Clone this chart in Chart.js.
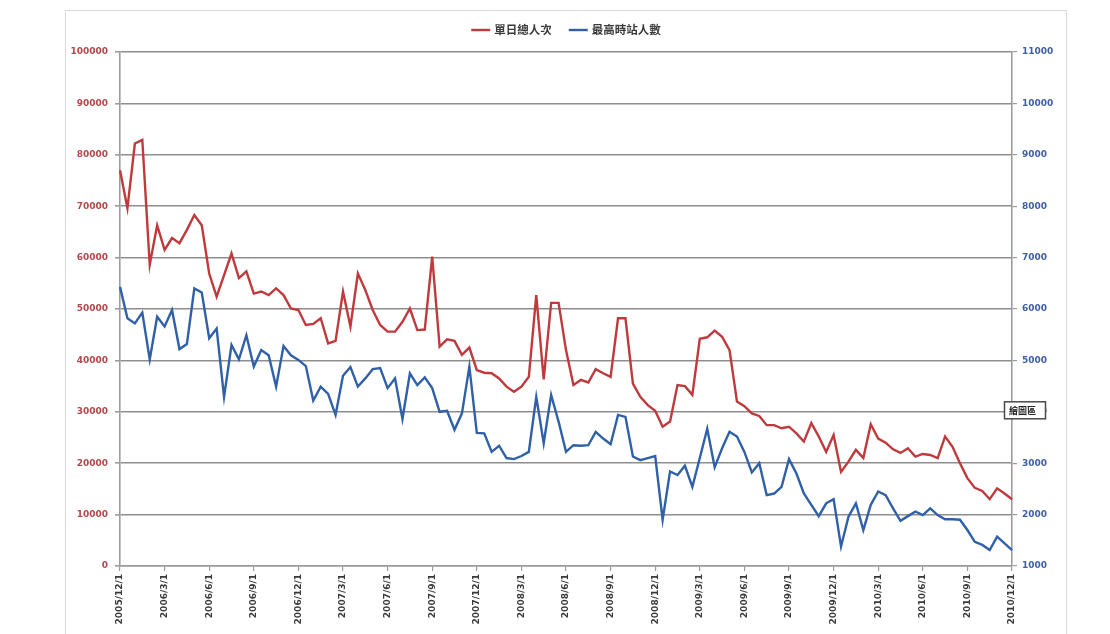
<!DOCTYPE html>
<html>
<head>
<meta charset="utf-8">
<script src="https://cdn.jsdelivr.net/npm/chart.js@4"></script>
<style>
  html, body { margin: 0; padding: 0; background: #ffffff; }
  #wrap { position: relative; width: 1110px; height: 634px; }
</style>
</head>
<body>
<div id="wrap"><canvas id="chart"></canvas></div>
<script>
// Semi-monthly sampling dates, Dec 2005 – Dec 2010
const categories = [
  "2005/12/1","2005/12/16",
  "2006/1/1","2006/1/16","2006/2/1","2006/2/16","2006/3/1","2006/3/16","2006/4/1","2006/4/16",
  "2006/5/1","2006/5/16","2006/6/1","2006/6/16","2006/7/1","2006/7/16","2006/8/1","2006/8/16",
  "2006/9/1","2006/9/16","2006/10/1","2006/10/16","2006/11/1","2006/11/16","2006/12/1","2006/12/16",
  "2007/1/1","2007/1/16","2007/2/1","2007/2/16","2007/3/1","2007/3/16","2007/4/1","2007/4/16",
  "2007/5/1","2007/5/16","2007/6/1","2007/6/16","2007/7/1","2007/7/16","2007/8/1","2007/8/16",
  "2007/9/1","2007/9/16","2007/10/1","2007/10/16","2007/11/1","2007/11/16","2007/12/1","2007/12/16",
  "2008/1/1","2008/1/16","2008/2/1","2008/2/16","2008/3/1","2008/3/16","2008/4/1","2008/4/16",
  "2008/5/1","2008/5/16","2008/6/1","2008/6/16","2008/7/1","2008/7/16","2008/8/1","2008/8/16",
  "2008/9/1","2008/9/16","2008/10/1","2008/10/16","2008/11/1","2008/11/16","2008/12/1","2008/12/16",
  "2009/1/1","2009/1/16","2009/2/1","2009/2/16","2009/3/1","2009/3/16","2009/4/1","2009/4/16",
  "2009/5/1","2009/5/16","2009/6/1","2009/6/16","2009/7/1","2009/7/16","2009/8/1","2009/8/16",
  "2009/9/1","2009/9/16","2009/10/1","2009/10/16","2009/11/1","2009/11/16","2009/12/1","2009/12/16",
  "2010/1/1","2010/1/16","2010/2/1","2010/2/16","2010/3/1","2010/3/16","2010/4/1","2010/4/16",
  "2010/5/1","2010/5/16","2010/6/1","2010/6/16","2010/7/1","2010/7/16","2010/8/1","2010/8/16",
  "2010/9/1","2010/9/16","2010/10/1","2010/10/16","2010/11/1","2010/11/16","2010/12/1"
];

// Daily total visits (left axis)
const dailyVisits = [
  77000, 69600, 82200, 82900, 58600, 66300, 61500, 63800, 62800, 65400,
  68300, 66300, 56900, 52400, 56600, 60800, 56000, 57300, 53000, 53400,
  52700, 54000, 52700, 50100, 49800, 46900, 47100, 48200, 43300, 43800,
  53400, 46600, 56900, 53700, 49800, 46900, 45600, 45600, 47500, 50100,
  45900, 46000, 60200, 42700, 44100, 43800, 41100, 42500, 38100, 37600,
  37500, 36500, 34900, 33900, 34900, 36800, 52700, 36300, 51200, 51200,
  42000, 35200, 36200, 35700, 38300, 37500, 36800, 48200, 48200, 35500,
  32900, 31300, 30200, 27100, 28100, 35200, 35000, 33300, 44200, 44500,
  45800, 44600, 42000, 32000, 31100, 29700, 29200, 27400, 27400, 26800,
  27100, 25800, 24200, 27800, 25200, 22200, 25500, 18300, 20300, 22600,
  21000, 27600, 24800, 24000, 22700, 22000, 22900, 21300, 21800, 21600,
  21000, 25200, 23200, 20000, 17100, 15200, 14600, 13000, 15100, 14100,
  13000
];

// Peak concurrent users (right axis)
const peakOnline = [
  6430, 5820, 5720, 5930, 5020, 5850, 5660, 5980, 5220, 5320,
  6400, 6320, 5430, 5620, 4290, 5300, 5020, 5490, 4880, 5200,
  5100, 4490, 5280, 5100, 5010, 4890, 4220, 4490, 4350, 3940,
  4700, 4870, 4490, 4650, 4830, 4850, 4460, 4650, 3860, 4750,
  4520, 4670, 4460, 4000, 4020, 3650, 3970, 4880, 3590, 3580,
  3220, 3340, 3100, 3080, 3140, 3220, 4290, 3390, 4330, 3810,
  3220, 3350, 3340, 3350, 3610, 3480, 3370, 3940, 3900, 3130,
  3060, 3100, 3140, 1900, 2840, 2770, 2950, 2540, 3100, 3670,
  2920, 3290, 3610, 3520, 3220, 2820, 3000, 2380, 2410, 2540,
  3080, 2800, 2410, 2190, 1970, 2220, 2300, 1380, 1960, 2220,
  1700, 2190, 2450, 2380, 2120, 1880, 1970, 2060, 1990, 2120,
  1990, 1910, 1910, 1900, 1700, 1470, 1410, 1310, 1570, 1440,
  1310
];

const seriesNames = ["單日總人次", "最高時站人數"];
const leftRange = { min: 0, max: 100000, step: 10000 };
const rightRange = { min: 1000, max: 11000, step: 1000 };
const labelEvery = 6;          // one date label per quarter
const plotAreaTag = "繪圖區";

const RED = "#bf3a3c";
const BLUE = "#2f60a8";
const GRID = "#8e8e8e";
const AXIS = "#9c9c9c";
const tickFont = { family: "'DejaVu Sans'", size: 9, weight: "bold" };
const plainNumber = v => String(v);

// light frame around the whole chart object
const framePlugin = {
  id: "frame",
  beforeDraw(chart) {
    const ctx = chart.ctx;
    ctx.save();
    ctx.strokeStyle = "#dadada";
    ctx.lineWidth = 1;
    ctx.strokeRect(65.5, 10.5, 1001, 640);
    ctx.restore();
  }
};

// legend row above the plot, centred on the plot area
const legendRow = {
  id: "legendRow",
  afterDraw(chart) {
    const ctx = chart.ctx, ca = chart.chartArea;
    ctx.save();
    ctx.font = "bold 11.5px 'Noto Sans CJK TC'";
    const lineW = 19, gapText = 4, gapItem = 17, y = 30;
    const items = chart.data.datasets.map(d => ({
      text: d.label, color: d.borderColor, w: ctx.measureText(d.label).width
    }));
    const total = items.reduce((s, it) => s + lineW + gapText + it.w, 0) + gapItem * (items.length - 1);
    let x = (ca.left + ca.right) / 2 - total / 2;
    items.forEach(it => {
      ctx.strokeStyle = it.color;
      ctx.lineWidth = 2.4;
      ctx.beginPath();
      ctx.moveTo(x, y);
      ctx.lineTo(x + lineW, y);
      ctx.stroke();
      ctx.fillStyle = "#3a3a3a";
      ctx.textBaseline = "middle";
      ctx.textAlign = "left";
      ctx.fillText(it.text, x + lineW + gapText, y);
      x += lineW + gapText + it.w + gapItem;
    });
    ctx.restore();
  }
};

// small hover tag sitting on the right edge of the plot area
const tagPlugin = {
  id: "plotTag",
  afterDraw(chart) {
    const ctx = chart.ctx, ca = chart.chartArea;
    const yMid = chart.scales.y.getPixelForValue(30000) - 2;
    ctx.save();
    ctx.font = "bold 9px 'Noto Sans CJK TC'";
    const tw = ctx.measureText(plotAreaTag).width;
    const w = tw + 14, h = 17;
    const x0 = ca.right - 8;
    ctx.fillStyle = "#ffffff";
    ctx.fillRect(x0, yMid - h / 2, w, h);
    ctx.strokeStyle = "#4a4a4a";
    ctx.lineWidth = 1.5;
    ctx.strokeRect(x0 + 0.5, yMid - h / 2 + 0.5, w, h);
    ctx.fillStyle = "#222";
    ctx.textBaseline = "middle";
    ctx.textAlign = "left";
    ctx.fillText(plotAreaTag, x0 + 5, yMid + 1);
    ctx.restore();
  }
};

new Chart(document.getElementById("chart"), {
  type: "line",
  data: {
    labels: categories,
    datasets: [
      {
        label: seriesNames[0],
        data: dailyVisits,
        yAxisID: "y",
        borderColor: RED,
        backgroundColor: RED,
        borderWidth: 2.4,
        pointRadius: 0,
        tension: 0
      },
      {
        label: seriesNames[1],
        data: peakOnline,
        yAxisID: "y1",
        borderColor: BLUE,
        backgroundColor: BLUE,
        borderWidth: 2.4,
        pointRadius: 0,
        tension: 0
      }
    ]
  },
  options: {
    responsive: true,
    maintainAspectRatio: false,
    animation: false,
    layout: { padding: { top: 52, left: 0, right: 0, bottom: 0 } },
    plugins: {
      legend: { display: false },
      tooltip: { enabled: false }
    },
    scales: {
      x: {
        type: "category",
        offset: false,
        afterFit(s) { s.height = 68; },
        border: { color: AXIS, width: 1.6 },
        grid: { drawOnChartArea: false, tickLength: 5, color: AXIS, lineWidth: 1.2 },
        ticks: {
          autoSkip: false,
          minRotation: 90,
          maxRotation: 90,
          padding: 3,
          color: "#3a3a3a",
          font: tickFont,
          callback(value, index) {
            return index % labelEvery === 0 ? this.getLabelForValue(value) : null;
          }
        }
      },
      y: {
        position: "left",
        min: leftRange.min,
        max: leftRange.max,
        afterFit(s) { s.width = 120; },
        border: { color: AXIS, width: 1.6 },
        grid: { color: GRID, lineWidth: 1.6, tickLength: 5, tickColor: AXIS },
        ticks: { stepSize: leftRange.step, padding: 7, color: "#b5474a", font: tickFont, callback: plainNumber }
      },
      y1: {
        position: "right",
        min: rightRange.min,
        max: rightRange.max,
        afterFit(s) { s.width = 98; },
        border: { color: AXIS, width: 1.6 },
        grid: { drawOnChartArea: false, tickLength: 5, color: AXIS, lineWidth: 1.2 },
        ticks: { stepSize: rightRange.step, padding: 5, color: "#3f5f9f", font: tickFont, callback: plainNumber }
      }
    }
  },
  plugins: [framePlugin, legendRow, tagPlugin]
});
</script>
</body>
</html>
